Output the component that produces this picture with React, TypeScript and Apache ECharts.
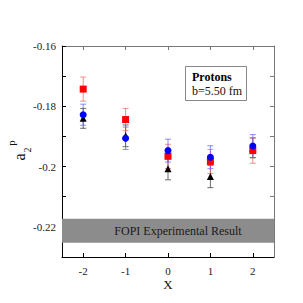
import React, { useEffect, useRef } from "react";
import * as echarts from "echarts";

const xs = [-2, -1, 0, 1, 2];
const redVals = [-0.1743, -0.1844, -0.1966, -0.1983, -0.1947];
const redErr = [0.004, 0.0037, 0.004, 0.004, 0.0042];
const blueVals = [-0.1828, -0.1906, -0.1947, -0.1969, -0.1932];
const blueErr = [0.0035, 0.0037, 0.0038, 0.0038, 0.0038];
const blackVals = [-0.184, -0.1898, -0.2007, -0.2033, -0.1938];
const blackErr = [0.0033, 0.0036, 0.0037, 0.0037, 0.0033];
const bandRange = [-0.2253, -0.2173];
const bandLabel = "FOPI Experimental Result";
const yTickValues = [-0.22, -0.21, -0.2, -0.19, -0.18, -0.17, -0.16];
const yLabelValues = [-0.22, -0.2, -0.18, -0.16];
const xTickValues = [-2, -1, 0, 1, 2];

const FONT = "Liberation Serif";

function errSeries(vals: number[], errs: number[], color: string) {
  return {
    type: "custom",
    xAxisIndex: 0,
    yAxisIndex: 0,
    silent: true,
    z: 2,
    data: xs.map((x, i) => [x, vals[i] - errs[i], vals[i] + errs[i]]),
    renderItem: (params: any, api: any) => {
      const x = api.value(0);
      const lo = api.coord([x, api.value(1)]);
      const hi = api.coord([x, api.value(2)]);
      const w = 3;
      const style = { stroke: color, lineWidth: 1 };
      return {
        type: "group",
        children: [
          { type: "line", shape: { x1: lo[0], y1: lo[1], x2: hi[0], y2: hi[1] }, style },
          { type: "line", shape: { x1: lo[0] - w, y1: lo[1], x2: lo[0] + w, y2: lo[1] }, style },
          { type: "line", shape: { x1: hi[0] - w, y1: hi[1], x2: hi[0] + w, y2: hi[1] }, style },
        ],
      };
    },
  };
}

function pts(vals: number[], symbol: string, size: number, color: string, z: number) {
  return {
    type: "scatter",
    xAxisIndex: 0,
    yAxisIndex: 0,
    symbol,
    symbolSize: size,
    itemStyle: { color, opacity: 1 },
    z,
    data: xs.map((x, i) => [x, vals[i]]),
  };
}

export default function App() {
  const ref = useRef<HTMLDivElement>(null);
  useEffect(() => {
    if (!ref.current) return;
    const chart = echarts.init(ref.current, null, { renderer: "svg" });
    const fmt = (v: number) => String(Math.round(v * 100) / 100);
    const axisCommon = {
      type: "value",
      splitLine: { show: false },
    };
    chart.setOption({
      animation: false,
      backgroundColor: "#fff",
      grid: { left: 62, right: 29, top: 46, bottom: 46 },
      xAxis: [
        {
          ...axisCommon,
          position: "bottom",
          min: -2.5,
          max: 2.5,
          axisLine: { onZero: false, lineStyle: { color: "#000", width: 1 } },
          axisTick: { inside: true, length: 4, customValues: xTickValues, lineStyle: { color: "#000" } },
          axisLabel: {
            customValues: xTickValues,
            formatter: (v: number) => String(Math.round(v)),
            fontFamily: FONT,
            fontSize: 11,
            color: "#222",
            margin: 8,
          },
        },
        {
          ...axisCommon,
          position: "top",
          min: -2.5,
          max: 2.5,
          axisLine: { onZero: false, lineStyle: { color: "#777", width: 1 } },
          axisTick: { inside: true, length: 4, customValues: xTickValues, lineStyle: { color: "#777" } },
          axisLabel: { show: false },
        },
      ],
      yAxis: [
        {
          ...axisCommon,
          position: "left",
          min: -0.23,
          max: -0.16,
          axisLine: { onZero: false, lineStyle: { color: "#000", width: 1 } },
          axisTick: { inside: true, length: 4, customValues: yTickValues, lineStyle: { color: "#000" } },
          axisLabel: {
            customValues: yLabelValues,
            formatter: fmt,
            fontFamily: FONT,
            fontSize: 11,
            color: "#222",
            margin: 6,
          },
        },
        {
          ...axisCommon,
          position: "right",
          min: -0.23,
          max: -0.16,
          axisLine: { onZero: false, lineStyle: { color: "#777", width: 1 } },
          axisTick: { inside: true, length: 4, customValues: yTickValues, lineStyle: { color: "#777" } },
          axisLabel: { show: false },
        },
      ],
      series: [
        {
          type: "line",
          xAxisIndex: 0,
          yAxisIndex: 0,
          data: [],
          silent: true,
          z: 0,
          markArea: {
            silent: true,
            itemStyle: { color: "#8c8c8c" },
            label: {
              show: true,
              position: "inside",
              offset: [10, 0],
              formatter: bandLabel,
              fontFamily: FONT,
              fontSize: 12,
              color: "#1a1a1a",
            },
            data: [[{ yAxis: bandRange[1] }, { yAxis: bandRange[0] }]],
          },
        },
        errSeries(blackVals, blackErr, "rgba(70,70,70,0.8)"),
        errSeries(redVals, redErr, "rgba(255,90,90,0.7)"),
        errSeries(blueVals, blueErr, "rgba(90,90,255,0.7)"),
        pts(blackVals, "triangle", 7, "#000", 3),
        pts(redVals, "rect", 7, "#ff0000", 4),
        pts(blueVals, "circle", 7, "#0000ff", 5),
      ],
      graphic: [
        {
          type: "rect",
          shape: { x: 185.5, y: 66.5, width: 61, height: 34 },
          style: { fill: "#fff", stroke: "#888", lineWidth: 1 },
          z: 10,
        },
        {
          type: "text",
          x: 192,
          y: 77,
          style: { text: "Protons", fontFamily: FONT, fontWeight: "bold", fontSize: 12, fill: "#000", verticalAlign: "middle", align: "left" },
          z: 11,
        },
        {
          type: "text",
          x: 192,
          y: 91,
          style: { text: "b=5.50 fm", fontFamily: FONT, fontSize: 12, fill: "#111", verticalAlign: "middle", align: "left" },
          z: 11,
        },
        {
          type: "text",
          x: 168,
          y: 284,
          style: { text: "X", fontFamily: FONT, fontSize: 13, fill: "#111", verticalAlign: "middle", align: "center" },
        },
        {
          type: "text",
          x: 19,
          y: 157,
          rotation: Math.PI / 2,
          style: { text: "a", fontFamily: FONT, fontSize: 16, fill: "#111", verticalAlign: "middle", align: "center" },
        },
        {
          type: "text",
          x: 27,
          y: 150,
          rotation: Math.PI / 2,
          style: { text: "2", fontFamily: FONT, fontSize: 10, fill: "#111", verticalAlign: "middle", align: "center" },
        },
        {
          type: "text",
          x: 11,
          y: 143,
          rotation: Math.PI / 2,
          style: { text: "p", fontFamily: FONT, fontSize: 11, fill: "#111", verticalAlign: "middle", align: "center" },
        },
      ],
    });
    return () => chart.dispose();
  }, []);
  return (
    <div
      ref={ref}
      style={{ position: "fixed", left: 0, top: 0, width: 303, height: 303 }}
    />
  );
}
